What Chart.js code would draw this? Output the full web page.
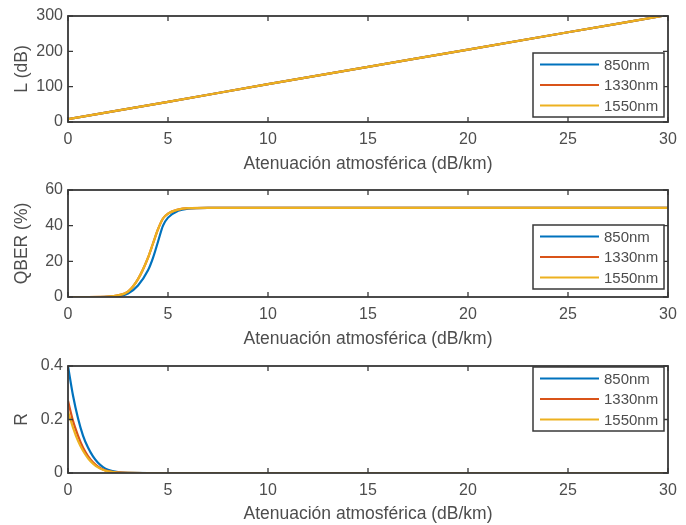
<!DOCTYPE html>
<html>
<head>
<meta charset="utf-8">
<script src="https://cdn.jsdelivr.net/npm/chart.js@4"></script>
<style>
  body { margin: 0; background: #fff; }
  .panel { position: absolute; left: 0; width: 686px; height: 175px; }
</style>
</head>
<body>
<div class="panel" style="top:0"><canvas id="graficoL"></canvas></div>
<div class="panel" style="top:175px"><canvas id="graficoQber"></canvas></div>
<div class="panel" style="top:350px"><canvas id="graficoR"></canvas></div>
<script>
// Datos
const etiquetas = ['850nm', '1330nm', '1550nm'];
const colores = ['#0072BD', '#D95319', '#EDB120'];
const ticksX = [0, 5, 10, 15, 20, 25, 30];

const xL = [0, 5, 10, 15, 20, 25, 30];
const L850 = [8, 57, 107, 156, 205, 254, 303];
const L1330 = [8, 57, 107, 156, 205, 254, 303];
const L1550 = [8, 57, 107, 156, 205, 254, 303];

const xQ = [0, 1, 2, 2.5, 3, 3.5, 4, 4.25, 4.5, 4.75, 5, 5.5, 6, 7, 8, 10, 15, 20, 25, 30];
const Q850 = [0, 0, 0.1, 0.5, 2, 6.5, 15, 22, 31, 40, 44.5, 48.3, 49.6, 50, 50, 50, 50, 50, 50, 50];
const Q1330 = [0, 0, 0.2, 0.9, 3, 10, 22, 30, 38, 44, 46.8, 49, 49.8, 50, 50, 50, 50, 50, 50, 50];
const Q1550 = [0, 0, 0.2, 0.9, 3, 10, 22, 30, 38, 44, 46.8, 49, 49.8, 50, 50, 50, 50, 50, 50, 50];

const xR = [0, 0.25, 0.5, 0.75, 1, 1.25, 1.5, 1.75, 2, 2.5, 3, 4, 5, 10, 15, 20, 25, 30];
const R850 = [0.40, 0.29, 0.205, 0.14, 0.095, 0.062, 0.038, 0.022, 0.012, 0.003, 0.0005, 0, 0, 0, 0, 0, 0, 0];
const R1330 = [0.27, 0.195, 0.14, 0.095, 0.063, 0.04, 0.024, 0.013, 0.007, 0.002, 0.0003, 0, 0, 0, 0, 0, 0, 0];
const R1550 = [0.23, 0.17, 0.12, 0.083, 0.055, 0.035, 0.021, 0.012, 0.006, 0.0015, 0.0002, 0, 0, 0, 0, 0, 0, 0];

const colorTexto = '#4d4d4d';
const colorMarco = '#383838';
const fuente = 'Arial, "Liberation Sans", sans-serif';

// marco, ticks hacia dentro y leyenda dentro del area
const marcoMatlab = {
    id: 'marcoMatlab',
    afterDraw(chart, args, opts) {
        const ctx = chart.ctx;
        const a = chart.chartArea;
        ctx.save();
        ctx.strokeStyle = colorMarco;
        ctx.lineWidth = 1.8;
        ctx.strokeRect(a.left, a.top, a.right - a.left, a.bottom - a.top);
        ctx.lineWidth = 1.3;
        chart.scales.x.ticks.forEach(t => {
            const px = chart.scales.x.getPixelForValue(t.value);
            ctx.beginPath();
            ctx.moveTo(px, a.bottom); ctx.lineTo(px, a.bottom - 5);
            ctx.moveTo(px, a.top); ctx.lineTo(px, a.top + 5);
            ctx.stroke();
        });
        chart.scales.y.ticks.forEach(t => {
            const py = chart.scales.y.getPixelForValue(t.value);
            ctx.beginPath();
            ctx.moveTo(a.left, py); ctx.lineTo(a.left + 5, py);
            ctx.moveTo(a.right, py); ctx.lineTo(a.right - 5, py);
            ctx.stroke();
        });

        // leyenda
        const bx = a.right - 135, by = a.top + opts.arriba, bw = 131, bh = 64;
        ctx.fillStyle = '#fff';
        ctx.fillRect(bx, by, bw, bh);
        ctx.strokeStyle = colorMarco;
        ctx.lineWidth = 1.5;
        ctx.strokeRect(bx, by, bw, bh);
        ctx.font = '15px ' + fuente;
        ctx.textBaseline = 'middle';
        chart.data.datasets.forEach((ds, i) => {
            const y = by + 11.5 + i * 20.5;
            ctx.strokeStyle = ds.borderColor;
            ctx.lineWidth = 2;
            ctx.beginPath();
            ctx.moveTo(bx + 7, y); ctx.lineTo(bx + 66, y);
            ctx.stroke();
            ctx.fillStyle = colorTexto;
            ctx.fillText(ds.label, bx + 71, y + 1);
        });
        ctx.restore();
    }
};

function crearGrafico(id, xs, series, ymax, paso, tituloY, arriba, padTop, altoX) {
    const datasets = series.map((s, i) => ({
        label: etiquetas[i],
        data: xs.map((x, j) => ({ x: x, y: s[j] })),
        borderColor: colores[i],
        borderWidth: 2.2,
        pointRadius: 0,
        cubicInterpolationMode: 'monotone',
        order: 2 - i
    }));
    new Chart(document.getElementById(id), {
        type: 'line',
        data: { datasets: datasets },
        options: {
            responsive: true,
            maintainAspectRatio: false,
            animation: false,
            layout: { padding: { top: padTop, right: 18, left: 0, bottom: 0 } },
            plugins: {
                legend: { display: false },
                tooltip: { enabled: false },
                marcoMatlab: { arriba: arriba }
            },
            scales: {
                x: {
                    type: 'linear',
                    min: 0, max: 30,
                    afterBuildTicks: s => { s.ticks = ticksX.map(v => ({ value: v })); },
                    grid: { display: false },
                    border: { display: false },
                    ticks: { color: colorTexto, font: { size: 16, family: fuente }, padding: 0, maxRotation: 0 },
                    title: {
                        display: true,
                        text: 'Atenuación atmosférica (dB/km)',
                        color: colorTexto,
                        font: { size: 17.5, family: fuente },
                        padding: { top: 0, bottom: 0 }
                    },
                    afterFit: s => { s.height = altoX; }
                },
                y: {
                    min: 0, max: ymax,
                    grid: { display: false, drawTicks: false },
                    border: { display: false },
                    ticks: { stepSize: paso, color: colorTexto, font: { size: 16, family: fuente }, padding: 5 },
                    title: {
                        display: true,
                        text: tituloY,
                        color: colorTexto,
                        font: { size: 17.5, family: fuente },
                        padding: { top: 12, bottom: 0 }
                    },
                    afterFit: s => { s.width = 68; }
                }
            }
        },
        plugins: [marcoMatlab]
    });
}

crearGrafico('graficoL', xL, [L850, L1330, L1550], 300, 100, 'L (dB)', 37, 16, 53);
crearGrafico('graficoQber', xQ, [Q850, Q1330, Q1550], 60, 20, 'QBER (%)', 35, 15, 53);
crearGrafico('graficoR', xR, [R850, R1330, R1550], 0.4, 0.2, 'R', 1, 16, 52);
</script>
</body>
</html>
